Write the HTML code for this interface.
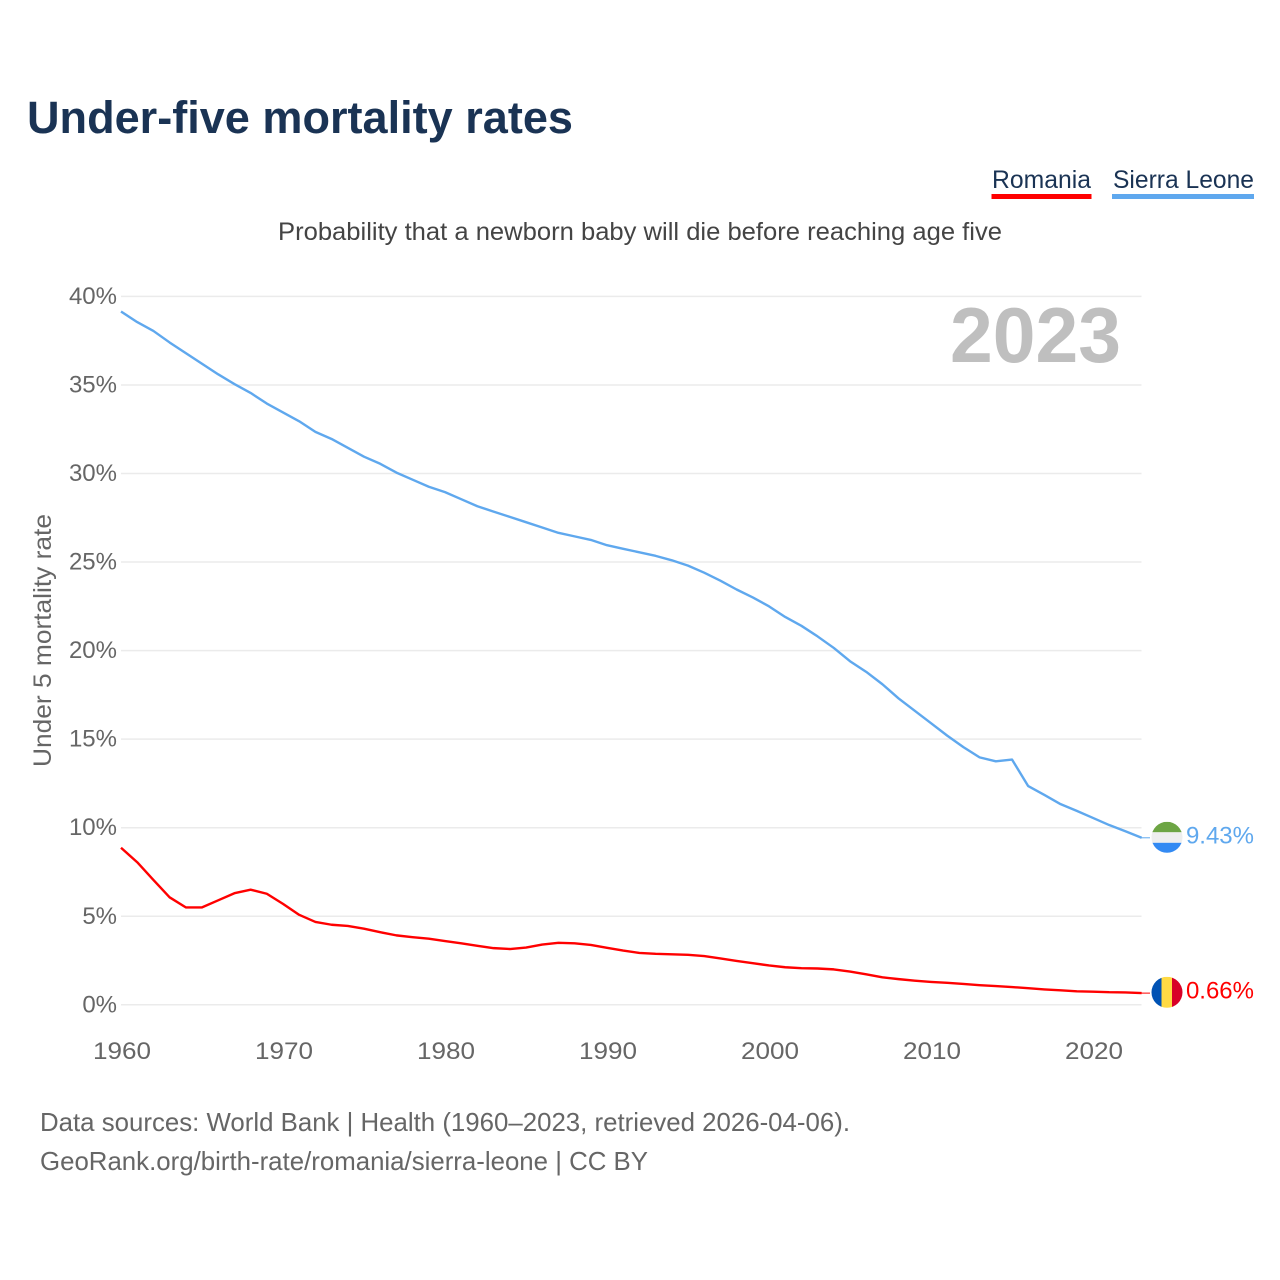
<!DOCTYPE html>
<html lang="en">
<head>
<meta charset="utf-8">
<title>Under-five mortality rates</title>
<style>
html,body{margin:0;padding:0;background:#fff;}
svg{display:block;font-family:"Liberation Sans",Arial,sans-serif;}
</style>
</head>
<body>
<svg id="chart" width="1280" height="1280" viewBox="0 0 1280 1280" xmlns="http://www.w3.org/2000/svg">
  <rect width="1280" height="1280" fill="#ffffff"/>
  <text x="27" y="133" font-size="45" font-weight="700" fill="#1a3354" textLength="546" lengthAdjust="spacingAndGlyphs">Under-five mortality rates</text>

  <g>
    <text x="992" y="188" font-size="25" fill="#1a3354" textLength="99" lengthAdjust="spacingAndGlyphs">Romania</text>
    <rect x="991.5" y="194" width="100" height="5" fill="#ff0000"/>
  </g>
  <g>
    <text x="1113" y="188" font-size="25" fill="#1a3354" textLength="141" lengthAdjust="spacingAndGlyphs">Sierra Leone</text>
    <rect x="1112" y="194" width="142" height="5" fill="#5fa8ee"/>
  </g>

  <text x="278" y="240" font-size="25" fill="#444444" textLength="724" lengthAdjust="spacingAndGlyphs">Probability that a newborn baby will die before reaching age five</text>
  <text transform="translate(51,767) rotate(-90)" font-size="25" fill="#666666" textLength="253" lengthAdjust="spacingAndGlyphs">Under 5 mortality rate</text>

  <g id="grid"></g>
  <g id="yticks"></g>
  <g id="xticks"></g>

  <text x="950" y="362" font-size="78" font-weight="700" fill="#bfbfbf" textLength="171" lengthAdjust="spacingAndGlyphs">2023</text>

  <g id="series"></g>
  <g id="ends"></g>

  <defs>
    <clipPath id="clip-sl"><circle cx="1167" cy="15.5" r="15.5"/></clipPath>
    <clipPath id="clip-ro"><circle cx="1167" cy="15.5" r="15.5"/></clipPath>
  </defs>

  <text x="40" y="1131" font-size="26" fill="#666666" textLength="810" lengthAdjust="spacingAndGlyphs">Data sources: World Bank | Health (1960–2023, retrieved 2026-04-06).</text>
  <text x="40" y="1170" font-size="26" fill="#666666" textLength="608" lengthAdjust="spacingAndGlyphs">GeoRank.org/birth-rate/romania/sierra-leone | CC BY</text>
</svg>

<script>
const startYear = 1960;
const xTickYears = [1960, 1970, 1980, 1990, 2000, 2010, 2020];
const yTickValues = [0, 5, 10, 15, 20, 25, 30, 35, 40];
const sierraLeoneValues = [
  39.15, 38.55, 38.05, 37.4, 36.8, 36.2, 35.6, 35.05, 34.55, 33.95,
  33.45, 32.95, 32.35, 31.95, 31.45, 30.95, 30.55, 30.05, 29.65, 29.25,
  28.95, 28.55, 28.15, 27.85, 27.55, 27.25, 26.95, 26.65, 26.45, 26.25,
  25.95, 25.75, 25.55, 25.35, 25.1, 24.8, 24.4, 23.95, 23.45, 23.0,
  22.5, 21.9, 21.4, 20.8, 20.15, 19.4, 18.8, 18.1, 17.3, 16.6,
  15.9, 15.2, 14.55, 13.97, 13.75, 13.85, 12.35, 11.85, 11.33, 10.95,
  10.55, 10.15, 9.8, 9.43
];
const romaniaValues = [
  8.87, 8.05, 7.05, 6.07, 5.5, 5.5, 5.9, 6.3, 6.5, 6.27,
  5.7, 5.08, 4.68, 4.52, 4.45, 4.3, 4.1, 3.92, 3.82, 3.73,
  3.6, 3.47, 3.33, 3.2, 3.15, 3.23, 3.4, 3.5, 3.47, 3.38,
  3.22, 3.06, 2.93, 2.88, 2.85, 2.82, 2.75, 2.62, 2.48, 2.35,
  2.22, 2.12, 2.07, 2.05, 2.0, 1.88, 1.72, 1.55, 1.45, 1.36,
  1.29, 1.24, 1.18, 1.11, 1.06, 1.0, 0.94, 0.87, 0.82, 0.76,
  0.74, 0.71, 0.7, 0.66
];

const NS = 'http://www.w3.org/2000/svg';
const xScale = year => 121 + (year - 1960) * 16.2;
const yScale = value => 1004.8 - value * 17.71;

function make(tag, attrs, parent) {
  const el = document.createElementNS(NS, tag);
  for (const k in attrs) el.setAttribute(k, attrs[k]);
  parent.appendChild(el);
  return el;
}

const grid = document.getElementById('grid');
const yticks = document.getElementById('yticks');
const xticks = document.getElementById('xticks');
const series = document.getElementById('series');
const ends = document.getElementById('ends');

yTickValues.forEach(v => {
  const line = make('line', {x1: 121, x2: 1141.5, y1: yScale(v), y2: yScale(v), stroke: '#ebebeb', 'stroke-width': 1.5}, grid);
  
  
  const label = make('text', {x: 117, y: yScale(v) + 7.5, 'text-anchor': 'end', 'font-size': 24, fill: '#666666'}, yticks);
  
  
  label.textContent = v + '%';
});

xTickYears.forEach(y => {
  const label = make('text', {x: xScale(y) - 28, y: 1059, 'font-size': 24, fill: '#666666', textLength: 58, lengthAdjust: 'spacingAndGlyphs'}, xticks);
  
  
  label.textContent = y;
});

function pathFor(values) {
  return values.map((v, i) => (i ? 'L' : 'M') + xScale(startYear + i).toFixed(2) + ' ' + yScale(v).toFixed(2)).join(' ');
}

const romaniaLine = make('path', {d: pathFor(romaniaValues), fill: 'none', stroke: '#ff0000', 'stroke-width': 2.4, 'stroke-linejoin': 'round'}, series);



const sierraLine = make('path', {d: pathFor(sierraLeoneValues), fill: 'none', stroke: '#5fa8ee', 'stroke-width': 2.4, 'stroke-linejoin': 'round'}, series);



function endConnector(y, color, parent) {
  const c = make('line', {x1: 1141, x2: 1150, y1: y, y2: y, stroke: color, 'stroke-width': 1}, parent);
  
  
}

function endLabel(y, color, text, parent) {
  const t = make('text', {x: 1254, y: y + 5.5, 'text-anchor': 'end', 'font-size': 24, fill: color}, parent);
  
  
  t.textContent = text;
}

const slY = yScale(sierraLeoneValues[sierraLeoneValues.length - 1]);
endConnector(slY, '#5fa8ee', ends);
const slFlag = make('g', {transform: 'translate(0,' + (slY - 16) + ')', 'clip-path': 'url(#clip-sl)'}, ends);


make('rect', {x: 1151, y: 0, width: 32, height: 10.5, fill: '#6da544'}, slFlag);
make('rect', {x: 1151, y: 10.5, width: 32, height: 10.5, fill: '#eeeeee'}, slFlag);
make('rect', {x: 1151, y: 21, width: 32, height: 11, fill: '#338af3'}, slFlag);
endLabel(slY, '#5fa8ee', sierraLeoneValues[sierraLeoneValues.length - 1].toFixed(2) + '%', ends);

const roY = yScale(romaniaValues[romaniaValues.length - 1]);
endConnector(roY, '#ff0000', ends);
const roFlag = make('g', {transform: 'translate(0,' + (roY - 16.3) + ')', 'clip-path': 'url(#clip-ro)'}, ends);


make('rect', {x: 1151, y: 0, width: 10.5, height: 32, fill: '#0052b4'}, roFlag);
make('rect', {x: 1161.5, y: 0, width: 10.5, height: 32, fill: '#ffda44'}, roFlag);
make('rect', {x: 1172, y: 0, width: 11, height: 32, fill: '#d80027'}, roFlag);
endLabel(roY, '#ff0000', romaniaValues[romaniaValues.length - 1].toFixed(2) + '%', ends);
</script>
</body>
</html>
